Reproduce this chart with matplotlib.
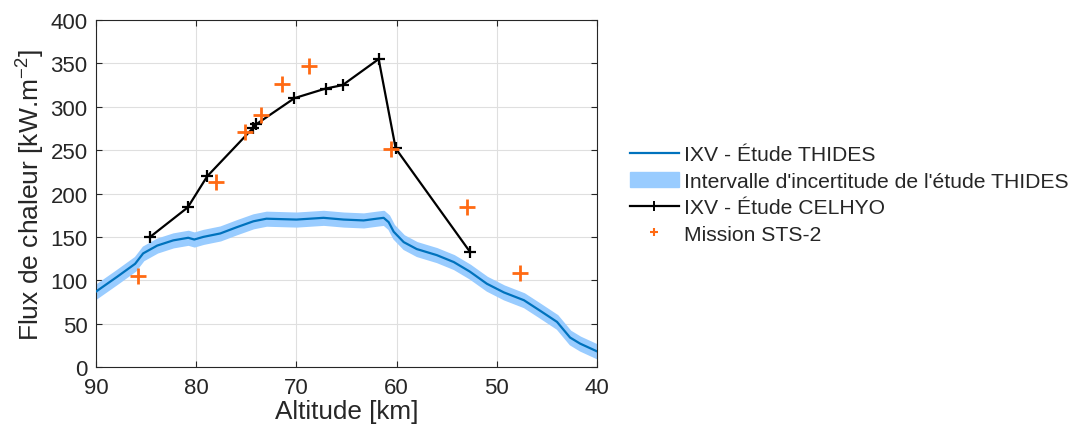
import numpy as np
import matplotlib
matplotlib.use("Agg")
import matplotlib.pyplot as plt
import matplotlib.patches as mpatches
from matplotlib.lines import Line2D

plt.rcParams["font.family"] = ["Liberation Sans", "DejaVu Sans"]
plt.rcParams["mathtext.fontset"] = "custom"
plt.rcParams["mathtext.rm"] = "Liberation Sans"

# THIDES study (IXV) - altitude [km], heat flux [kW/m2]
thides_alt = [90.0, 87.9, 86.1, 85.3, 83.9, 82.3, 80.8, 80.2, 79.3, 77.6, 76.0,
              74.3, 73.0, 70.0, 67.3, 65.3, 63.3, 62.0, 61.3, 60.8, 60.3,
              59.3, 58.0, 56.0, 54.3, 52.7, 51.0, 49.3, 47.3, 45.7, 44.0,
              42.7, 41.7, 40.0]
thides_flux = [87, 104, 119, 131, 140, 146, 149, 147, 150, 154, 161,
               168, 171, 170, 172, 170, 169, 171, 172, 167, 156,
               144, 136, 129, 121, 110, 96, 86, 77, 65, 52,
               34, 27, 18]
thides_half_width = 7.5  # half-width of the THIDES uncertainty interval [kW/m2]

# CELHYO study (IXV)
celhyo_alt = [84.6, 80.85, 78.9, 74.3, 74.0, 70.2, 67.1, 65.4, 61.8, 60.1, 52.7]
celhyo_flux = [150, 184, 220, 276, 280, 310, 321, 325, 355, 252, 133]

# STS-2 mission
sts2_alt = [85.8, 78.0, 75.1, 73.5, 71.4, 68.7, 60.6, 53.0, 47.7]
sts2_flux = [105, 213, 271, 291, 326, 347, 251, 184, 108]

BLUE = "#0072BD"
BAND = "#99CCFF"
ORANGE = "#FF6A13"
TXT = "#262626"

fig = plt.figure(figsize=(10.72, 4.39), dpi=100)
ax = fig.add_axes([0.0896, 0.1617, 0.4674, 0.7903])

t_alt = np.array(thides_alt)
t_flux = np.array(thides_flux, dtype=float)
ax.fill_between(t_alt, t_flux - thides_half_width, t_flux + thides_half_width,
                color=BAND, linewidth=1.5, edgecolor=BAND, zorder=2)
ax.plot(t_alt, t_flux, color=BLUE, linewidth=1.6, zorder=3)
ax.plot(celhyo_alt, celhyo_flux, color="black", linewidth=1.6, marker="+",
        markersize=8, markeredgewidth=1.6, zorder=4)
ax.plot(sts2_alt, sts2_flux, linestyle="none", marker="+", color=ORANGE,
        markersize=11, markeredgewidth=2, zorder=5)

ax.set_xlim(90, 40)
ax.set_ylim(0, 400)
ax.set_xticks([90, 80, 70, 60, 50, 40])
ax.set_yticks(range(0, 401, 50))
ax.grid(True, color="#DFDFDF", linewidth=0.8)
ax.set_axisbelow(True)
ax.tick_params(direction="in", top=True, right=True, labelsize=16,
               colors=TXT, length=4, width=0.8)
ax.tick_params(axis="x", pad=7)
ax.tick_params(axis="y", pad=6)
for s in ax.spines.values():
    s.set_color(TXT)
    s.set_linewidth(0.8)
ax.set_xlabel("Altitude [km]", fontsize=18.8, color=TXT, labelpad=1)
ax.set_ylabel("Flux de chaleur [kW.m$^{-2}$]", fontsize=19, color=TXT, labelpad=3)

handles = [
    Line2D([], [], color=BLUE, linewidth=1.6),
    mpatches.Patch(color=BAND),
    Line2D([], [], color="black", linewidth=1.6, marker="+", markersize=7,
           markeredgewidth=1.4),
    Line2D([], [], linestyle="none", marker="+", color=ORANGE, markersize=6,
           markeredgewidth=1.5),
]
labels = ["IXV - Étude THIDES", "Intervalle d'incertitude de l'étude THIDES",
          "IXV - Étude CELHYO", "Mission STS-2"]
leg = fig.legend(handles, labels, loc="center left", bbox_to_anchor=(0.5877, 0.555),
                 frameon=False, fontsize=15.2, handlelength=2.3, handletextpad=0.28,
                 labelspacing=0.36, borderpad=0, borderaxespad=0, labelcolor=TXT)

fig.savefig("out.png", dpi=100)
